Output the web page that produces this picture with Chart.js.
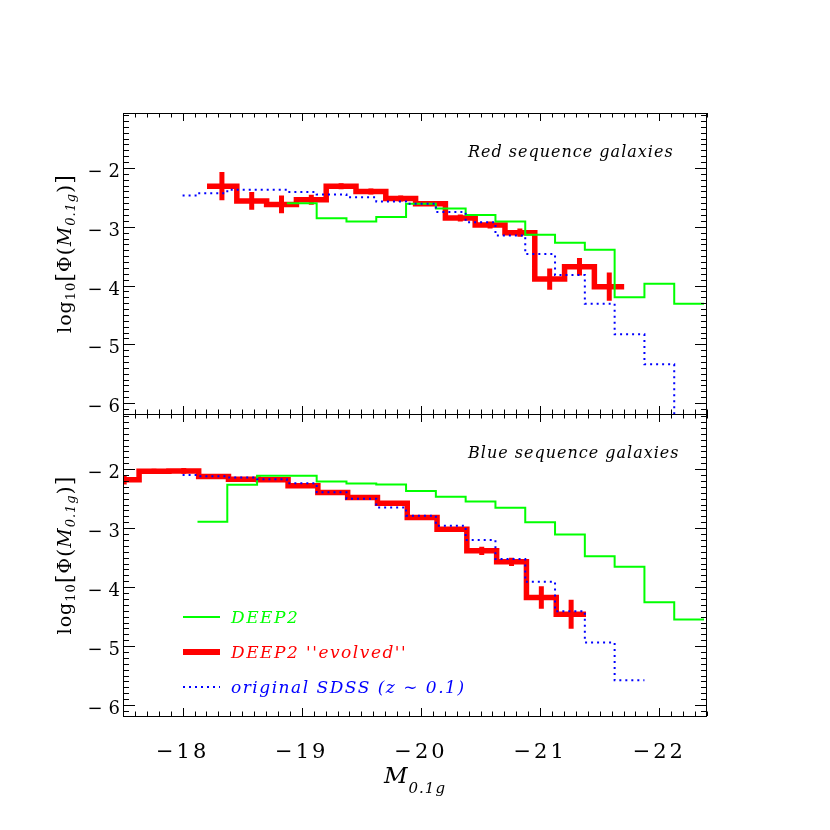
<!DOCTYPE html>
<html>
<head>
<meta charset="utf-8">
<script src="https://cdn.jsdelivr.net/npm/chart.js@4.4.0/dist/chart.umd.min.js"></script>
<style>
  body { margin: 0; background: #fff; }
  canvas { position: absolute; left: 0; top: 0; }
</style>
</head>
<body>
<canvas id="ChartRedSeq" width="830" height="830"></canvas>
<canvas id="ChartBlueSeq" width="830" height="830"></canvas>
<script>
// centros de bin en M_0.1g y valores log10 Phi

// panel superior: red sequence
var redEvolX = [-18.33, -18.58, -18.83, -19.08, -19.33, -19.58, -19.83, -20.08, -20.33, -20.58, -20.83, -21.08, -21.33, -21.58];
var redEvolY = [-2.31, -2.56, -2.62, -2.54, -2.31, -2.40, -2.52, -2.61, -2.85, -2.97, -3.10, -3.89, -3.68, -4.02];
var redEvolErr = [0.24, 0.15, 0.15, 0.085, 0.05, 0.05, 0.05, 0.035, 0.06, 0.06, 0.07, 0.18, 0.15, 0.24];

var redDeepX = [-19.0, -19.25, -19.5, -19.75, -20.0, -20.25, -20.5, -20.75, -21.0, -21.25, -21.5, -21.75, -22.0, -22.25];
var redDeepY = [-2.60, -2.855, -2.91, -2.835, -2.61, -2.69, -2.80, -2.91, -3.135, -3.27, -3.39, -4.20, -3.97, -4.31];

var redSdssX = [-18.0, -18.25, -18.5, -18.75, -19.0, -19.25, -19.5, -19.75, -20.0, -20.25, -20.5, -20.75, -21.0, -21.25, -21.5, -21.75, -22.0, -22.25];
var redSdssY = [-2.47, -2.43, -2.37, -2.37, -2.41, -2.45, -2.50, -2.57, -2.61, -2.75, -2.925, -3.15, -3.465, -3.82, -4.31, -4.83, -5.34, -6.8];

// panel inferior: blue sequence
var blueEvolX = [-17.51, -17.76, -18.01, -18.26, -18.51, -18.76, -19.01, -19.26, -19.51, -19.76, -20.01, -20.26, -20.51, -20.76, -21.01, -21.26];
var blueEvolY = [-2.18, -2.035, -2.03, -2.125, -2.17, -2.18, -2.28, -2.395, -2.48, -2.58, -2.82, -3.02, -3.385, -3.57, -4.175, -4.46];
var blueEvolErr = [0.08, 0.04, 0.05, 0.02, 0.02, 0.02, 0.02, 0.02, 0.02, 0.03, 0.03, 0.03, 0.07, 0.07, 0.19, 0.245];

var blueDeepX = [-18.25, -18.5, -18.75, -19.0, -19.25, -19.5, -19.75, -20.0, -20.25, -20.5, -20.75, -21.0, -21.25, -21.5, -21.75, -22.0, -22.25];
var blueDeepY = [-2.89, -2.265, -2.11, -2.11, -2.21, -2.245, -2.26, -2.37, -2.47, -2.55, -2.655, -2.90, -3.11, -3.475, -3.655, -4.255, -4.55];

var blueSdssX = [-18.0, -18.25, -18.5, -18.75, -19.0, -19.25, -19.5, -19.75, -20.0, -20.25, -20.5, -20.75, -21.0, -21.25, -21.5, -21.75];
var blueSdssY = [-2.10, -2.12, -2.14, -2.17, -2.24, -2.39, -2.50, -2.65, -2.79, -2.96, -3.20, -3.525, -3.91, -4.41, -4.94, -5.58];

var xTicks = [-18, -19, -20, -21, -22];
var yTicks = [-2, -3, -4, -5, -6];
var xMin = -22.4, xMax = -17.5;
var yMin = -6.185, yMax = -1.065;

var medioBin = 0.125;
var fuente = '"DejaVu Serif"';
var menos = '\u2212';

// puntos para un histograma con stepped 'middle'
function histograma(centros, valores, primeraMitad) {
  var pts = [];
  var n = centros.length;
  var inicio = primeraMitad ? centros[0] : centros[0] + medioBin;
  pts.push({x: inicio, y: valores[0]});
  for (var i = 0; i < n; i++) {
    pts.push({x: centros[i], y: valores[i]});
  }
  pts.push({x: centros[n - 1] - medioBin, y: valores[n - 1]});
  return pts;
}

function barrasError(centros, valores, errores) {
  var pts = [];
  for (var i = 0; i < centros.length; i++) {
    pts.push({x: centros[i], y: valores[i] - errores[i]});
    pts.push({x: centros[i], y: valores[i] + errores[i]});
    pts.push({x: centros[i], y: null});
  }
  return pts;
}

function textoPartes(c, partes, x, y) {
  for (var i = 0; i < partes.length; i++) {
    c.font = partes[i].f;
    c.fillText(partes[i].t, x, y + partes[i].dy);
    x += c.measureText(partes[i].t).width;
  }
}

function anchoPartes(c, partes) {
  var w = 0;
  for (var i = 0; i < partes.length; i++) {
    c.font = partes[i].f;
    w += c.measureText(partes[i].t).width;
  }
  return w;
}

var tituloY = [
  {t: 'log', f: '19px ' + fuente, dy: 0},
  {t: '10', f: '13px ' + fuente, dy: 4},
  {t: '[', f: '22px ' + fuente, dy: 1},
  {t: '\u03A6', f: '19px ' + fuente, dy: 0},
  {t: '(', f: '21px ' + fuente, dy: 1},
  {t: 'M', f: 'italic 19px ' + fuente, dy: 0},
  {t: '0.1g', f: 'italic 13px ' + fuente, dy: 4},
  {t: ')', f: '21px ' + fuente, dy: 1},
  {t: ']', f: '22px ' + fuente, dy: 1}
];

var tituloX = [
  {t: 'M', f: 'italic 23px ' + fuente, dy: 0},
  {t: '0.1g', f: 'italic 15px ' + fuente, dy: 10}
];

var ejesPlugin = {
  id: 'ejes',
  afterDraw: function(chart, args, opts) {
    var c = chart.ctx;
    var a = chart.chartArea;
    var sx = chart.scales.x;
    var sy = chart.scales.y;
    c.save();
    c.strokeStyle = '#000';
    c.lineWidth = 1;
    c.strokeRect(a.left + 0.5, a.top + 0.5, a.right - a.left - 1, a.bottom - a.top);

    c.beginPath();
    for (var k = 175; k <= 224; k++) {
      var px = Math.round(sx.getPixelForValue(-k / 10)) + 0.5;
      var L = (k % 10 == 0) ? 8 : 4.5;
      c.moveTo(px, a.bottom); c.lineTo(px, a.bottom - L);
      c.moveTo(px, a.top); c.lineTo(px, a.top + L);
    }
    for (var j = 11; j <= 61; j++) {
      var py = Math.round(sy.getPixelForValue(-j / 10)) + 0.5;
      var Ly = (j % 10 == 0) ? 12 : 6;
      c.moveTo(a.left, py); c.lineTo(a.left + Ly, py);
      c.moveTo(a.right, py); c.lineTo(a.right - Ly, py);
    }
    c.stroke();

    // etiquetas del eje y
    c.fillStyle = '#000';
    c.textAlign = 'right';
    c.textBaseline = 'alphabetic';
    c.font = '18px ' + fuente;
    yTicks.forEach(function(v) {
      var py = sy.getPixelForValue(v);
      c.fillText(Math.abs(v), a.left - 3, py + 9);
      var w = c.measureText(String(Math.abs(v))).width;
      c.fillText(menos, a.left - 3 - w - 6, py + 9);
    });

    // titulo y
    c.save();
    var cy = (a.top + a.bottom) / 2 - 10;
    c.translate(71, cy);
    c.rotate(-Math.PI / 2);
    c.textAlign = 'left';
    c.letterSpacing = '1px';
    textoPartes(c, tituloY, -anchoPartes(c, tituloY) / 2, 0);
    c.restore();

    // texto del panel
    c.textAlign = 'left';
    c.font = 'italic 16px ' + fuente;
    c.letterSpacing = '1px';
    c.fillText(opts.texto, 468, a.top + 44);
    c.letterSpacing = '0px';

    if (opts.ejeX) {
      c.textAlign = 'left';
      c.font = '21px ' + fuente;
      xTicks.forEach(function(v) {
        var px = sx.getPixelForValue(v);
        var num = String(Math.abs(v));
        c.letterSpacing = '3px';
        var wn = c.measureText(num).width;
        var wm = c.measureText(menos).width;
        var x0 = px - (wm + wn) / 2;
        c.fillText(menos, x0, 758);
        c.fillText(num, x0 + wm, 758);
      });
      c.letterSpacing = '1px';
      textoPartes(c, tituloX, (a.left + a.right) / 2 - anchoPartes(c, tituloX) / 2, 783);
      c.letterSpacing = '0px';
    }

    if (opts.leyenda) {
      var items = [
        {txt: 'DEEP2', col: '#00ff00', w: 2, dash: []},
        {txt: "DEEP2 ''evolved''", col: '#ff0000', w: 6, dash: []},
        {txt: 'original SDSS (z \u223C 0.1)', col: '#0000ff', w: 2, dash: [2, 4]}
      ];
      c.font = 'italic 17px ' + fuente;
      c.letterSpacing = '1.5px';
      items.forEach(function(it, i) {
        var ly = 617 + i * 35;
        c.beginPath();
        c.strokeStyle = it.col;
        c.lineWidth = it.w;
        c.setLineDash(it.dash);
        c.moveTo(183, ly); c.lineTo(220, ly);
        c.stroke();
        c.fillStyle = it.col;
        c.fillText(it.txt, 231, ly + 6);
      });
      c.setLineDash([]);
      c.letterSpacing = '0px';
    }
    c.restore();
  }
};

function opcionesPanel(arriba, abajo, texto, ejeX, leyenda) {
  return {
    responsive: false,
    animation: false,
    events: [],
    layout: { padding: { left: 123, right: 123, top: arriba, bottom: 830 - abajo } },
    plugins: {
      legend: { display: false },
      tooltip: { enabled: false },
      ejes: { texto: texto, ejeX: ejeX, leyenda: leyenda }
    },
    elements: { point: { radius: 0 } },
    scales: {
      x: { type: 'linear', reverse: true, min: xMin, max: xMax, display: false },
      y: { type: 'linear', min: yMin, max: yMax, display: false }
    }
  };
}

function datasetsPanel(sdssX, sdssY, deepX, deepY, evolX, evolY, evolErr) {
  return [{
    label: 'original SDSS (z ~ 0.1)',
    data: histograma(sdssX, sdssY, true),
    stepped: 'middle',
    borderColor: '#0000ff',
    borderWidth: 2,
    borderDash: [2, 4],
    fill: false,
    clip: 0
  }, {
    label: 'DEEP2',
    data: histograma(deepX, deepY, false),
    stepped: 'middle',
    borderColor: '#00ff00',
    borderWidth: 2,
    fill: false,
    clip: 0
  }, {
    label: "DEEP2 ''evolved''",
    data: histograma(evolX, evolY, false),
    stepped: 'middle',
    borderColor: '#ff0000',
    borderWidth: 5.5,
    fill: false,
    clip: 0
  }, {
    label: 'errores',
    data: barrasError(evolX, evolY, evolErr),
    borderColor: '#ff0000',
    borderWidth: 5,
    spanGaps: false,
    fill: false,
    clip: 0
  }];
}

function generarPanelRojo() {
  var ctx = document.getElementById('ChartRedSeq').getContext('2d');
  var myChart = new Chart(ctx, {
    type: 'line',
    data: { datasets: datasetsPanel(redSdssX, redSdssY, redDeepX, redDeepY, redEvolX, redEvolY, redEvolErr) },
    options: opcionesPanel(113, 414, 'Red sequence galaxies', false, false),
    plugins: [ejesPlugin]
  });
}

function generarPanelAzul() {
  var ctx = document.getElementById('ChartBlueSeq').getContext('2d');
  var myChart = new Chart(ctx, {
    type: 'line',
    data: { datasets: datasetsPanel(blueSdssX, blueSdssY, blueDeepX, blueDeepY, blueEvolX, blueEvolY, blueEvolErr) },
    options: opcionesPanel(414, 716, 'Blue sequence galaxies', true, true),
    plugins: [ejesPlugin]
  });
}

generarPanelRojo();
generarPanelAzul();
</script>
</body>
</html>
